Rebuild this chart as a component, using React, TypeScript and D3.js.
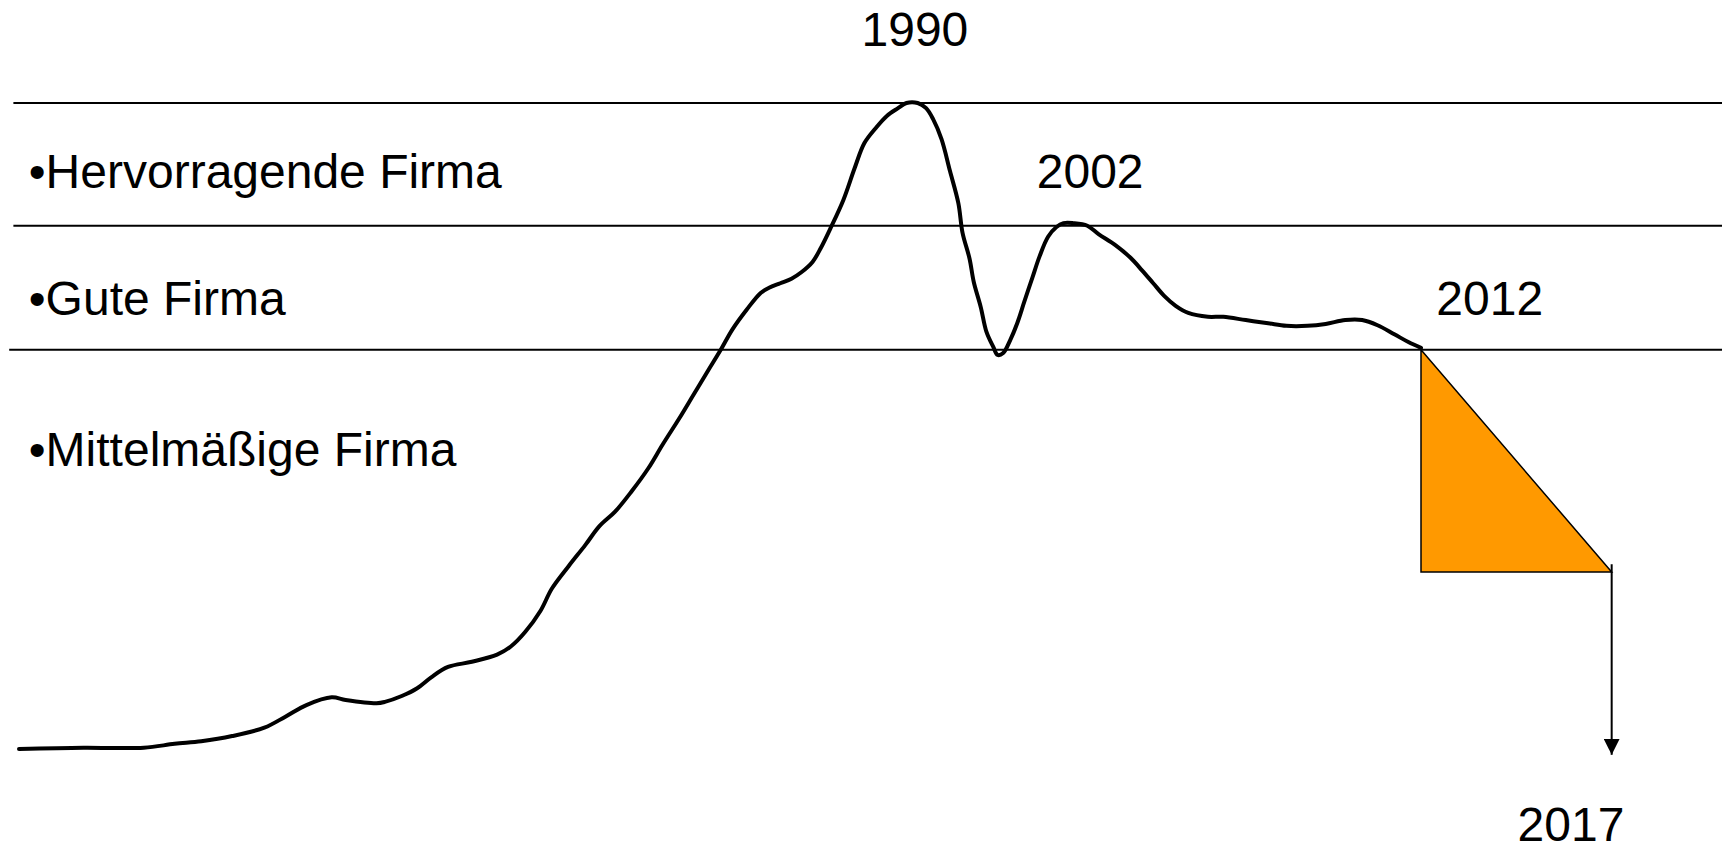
import React, { useEffect, useRef } from 'react';
import * as d3 from 'd3';

// course of the company over time (progress 0..100, level 0..100)
const progress = [
    0, 4.6, 8.9, 11.1, 13.0, 15.2, 17.5, 19.0, 20.5, 22.3, 23.3, 25.5, 26.1, 27.3, 28.4, 29.4,
    30.6, 32.3, 34.1, 35.1, 36.1, 37.2, 38.0, 39.2, 40.4, 41.4, 42.5, 43.7, 44.9, 45.9, 47.1,
    48.1, 49.1, 50.0, 50.9, 51.9, 52.9, 53.5, 54.3, 55.1, 55.8, 56.6, 57.2, 57.9, 58.8, 59.6,
    60.3, 61.1, 61.9, 62.7, 63.3, 64.1, 64.7, 65.2, 65.8, 66.4, 67.0, 67.3, 67.8, 68.1, 68.6,
    69.0, 69.5, 69.8, 70.2, 70.7, 71.2, 71.7, 72.3, 72.8, 73.4, 74.0, 74.5, 75.2, 76.2, 77.0,
    78.2, 79.3, 80.1, 80.9, 81.7, 82.5, 83.4, 84.8, 85.9, 87.5, 89.1, 90.4, 91.9, 93.2, 94.6,
    95.8, 96.9, 98.1, 99.1, 100
];
const level = [
    0, 0.2, 0.2, 0.8, 1.2, 2.0, 3.3, 5.0, 6.8, 8.0, 7.6, 7.1, 7.3, 8.2, 9.4, 11.1,
    12.7, 13.5, 14.6, 15.9, 18.1, 21.4, 24.8, 28.3, 31.6, 34.5, 36.7, 39.9, 43.5, 47.1, 51.2,
    54.8, 58.4, 61.6, 65.0, 68.0, 70.6, 71.4, 72.1, 72.8, 73.8, 75.4, 77.6, 80.7, 85.0, 89.9,
    93.8, 96.1, 98.0, 99.2, 100, 100, 99.2, 97.5, 94.4, 89.5, 84.5, 79.9, 75.9, 72.3, 68.4,
    64.6, 62.2, 61.0, 61.3, 63.3, 65.9, 69.2, 73.1, 76.3, 79.3, 80.8, 81.4, 81.4, 81.0, 79.7,
    78.0, 76.0, 74.1, 72.1, 70.1, 68.6, 67.5, 66.9, 66.9, 66.4, 65.9, 65.5, 65.5, 65.8, 66.4,
    66.4, 65.6, 64.2, 63.0, 62.1
];

// band borders and their names
const bandLevels = [100, 81.0, 61.8];
const bandLineStart = [-0.4, -0.4, -0.7];
const bandNames = ['•Hervorragende Firma', '•Gute Firma', '•Mittelmäßige Firma'];
const bandNameLevels = [86.9, 67.2, 43.8];

// year annotations
const years = ['1990', '2002', '2012', '2017'];
const yearProgress = [63.9, 76.4, 104.9, 110.7];
const yearLevels = [108.8, 86.9, 67.2, -14.2];

// the forecast drop after 2012
const dropStart = { p: 100, l: 61.8 };
const dropEnd = { p: 113.6, l: 27.4 };
const arrowEnd = -0.9;

export default function App() {
    const ref = useRef<SVGSVGElement>(null);

    useEffect(() => {
        const width = 1722;
        const height = 850;
        const svg = d3.select(ref.current);
        svg.selectAll('*').remove();
        svg.attr('width', width).attr('height', height);

        const xScale = d3.scaleLinear().domain([0, 100]).range([19, 1421]);
        const yScale = d3.scaleLinear().domain([0, 100]).range([749, 103]);

        svg.append('defs').append('marker')
            .attr('id', 'arrowhead')
            .attr('viewBox', '0 0 10 10')
            .attr('refX', 10)
            .attr('refY', 5)
            .attr('markerWidth', 8)
            .attr('markerHeight', 8)
            .attr('markerUnits', 'strokeWidth')
            .attr('orient', 'auto')
            .append('path')
            .attr('d', 'M0,0 L10,5 L0,10 Z')
            .attr('fill', '#000');

        // band borders
        svg.selectAll('.band')
            .data(bandLevels)
            .enter()
            .append('line')
            .attr('class', 'band')
            .attr('x1', (d, i) => xScale(bandLineStart[i]))
            .attr('x2', width)
            .attr('y1', d => yScale(d))
            .attr('y2', d => yScale(d))
            .attr('stroke', '#000')
            .attr('stroke-width', 2);

        svg.selectAll('.bandName')
            .data(bandNames)
            .enter()
            .append('text')
            .attr('class', 'bandName')
            .attr('x', xScale(0.7))
            .attr('y', (d, i) => yScale(bandNameLevels[i]))
            .text(d => d)
            .style('font-family', 'Liberation Sans, Arial, sans-serif')
            .style('font-size', '48px')
            .style('fill', '#000');

        // forecast triangle
        const tri: [number, number][] = [
            [xScale(dropStart.p), yScale(dropStart.l)],
            [xScale(dropStart.p), yScale(dropEnd.l)],
            [xScale(dropEnd.p), yScale(dropEnd.l)]
        ];
        svg.append('path')
            .attr('d', d3.line()(tri) + 'Z')
            .attr('fill', '#FF9900')
            .attr('stroke', '#000')
            .attr('stroke-width', 1.5)
            .attr('stroke-linejoin', 'miter');

        svg.append('line')
            .attr('x1', xScale(dropEnd.p))
            .attr('x2', xScale(dropEnd.p))
            .attr('y1', yScale(dropEnd.l + 1.2))
            .attr('y2', yScale(arrowEnd))
            .attr('stroke', '#000')
            .attr('stroke-width', 2)
            .attr('marker-end', 'url(#arrowhead)');

        // course line
        const pts = progress.map((p, i) => [p, level[i]] as [number, number]);
        const line = d3.line<[number, number]>()
            .curve(d3.curveCatmullRom.alpha(0.5))
            .x(d => xScale(d[0]))
            .y(d => yScale(d[1]));
        svg.append('path')
            .datum(pts)
            .attr('d', line)
            .attr('fill', 'none')
            .attr('stroke', '#000')
            .attr('stroke-width', 4)
            .attr('stroke-linejoin', 'round')
            .attr('stroke-linecap', 'round');

        svg.selectAll('.year')
            .data(years)
            .enter()
            .append('text')
            .attr('class', 'year')
            .attr('text-anchor', 'middle')
            .attr('x', (d, i) => xScale(yearProgress[i]))
            .attr('y', (d, i) => yScale(yearLevels[i]))
            .text(d => d)
            .style('font-family', 'Liberation Sans, Arial, sans-serif')
            .style('font-size', '48px')
            .style('fill', '#000');
    }, []);

    return (
        <div>
            <svg ref={ref} style={{ position: 'absolute', left: 0, top: 0, background: '#fff' }} />
        </div>
    );
}
